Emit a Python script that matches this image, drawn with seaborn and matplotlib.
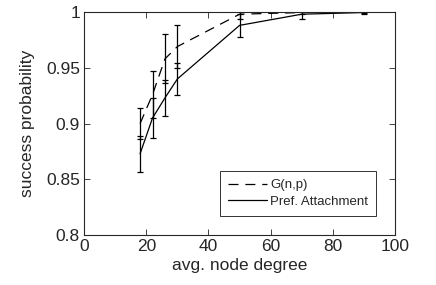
"""
Success probability vs. average node degree for two graph models
"""

import matplotlib
matplotlib.use('Agg')
import matplotlib.pyplot as plt
import seaborn as sns
import pandas as pd
import numpy as np


# Data
degree = [18, 22, 26, 30, 50, 70, 90]
gnp_mean = [0.900, 0.926, 0.958, 0.969, 0.998, 0.9995, 1.000]
gnp_err = [0.014, 0.021, 0.022, 0.019, 0.004, 0.001, 0.001]
pa_mean = [0.873, 0.905, 0.923, 0.940, 0.988, 0.998, 0.9995]
pa_err = [0.016, 0.018, 0.016, 0.0145, 0.010, 0.004, 0.001]
series_names = ['G(n,p)', 'Pref. Attachment']

xticks = [0, 20, 40, 60, 80, 100]
yticks = [0.8, 0.85, 0.9, 0.95, 1.0]
ytick_labels = ['0.8', '0.85', '0.9', '0.95', '1']


def main():
    sns.set_style('ticks')
    plt.rcParams['font.family'] = ['Liberation Sans', 'DejaVu Sans']
    plt.rcParams['xtick.direction'] = 'in'
    plt.rcParams['ytick.direction'] = 'in'

    df = pd.DataFrame({
        'degree': degree * 2,
        'prob': gnp_mean + pa_mean,
        'model': [series_names[0]] * len(degree) + [series_names[1]] * len(degree),
    })

    fig = plt.figure(figsize=(4.36, 2.85), dpi=100)
    ax = fig.add_axes([0.193, 0.175, 0.713, 0.783])

    # Mean curves
    sns.lineplot(data=df, x='degree', y='prob', hue='model', style='model',
                 palette=['black', 'black'],
                 dashes={series_names[0]: (8, 5.5), series_names[1]: ''},
                 linewidth=0.9, ax=ax)

    # Error bars
    for mean, err in [(gnp_mean, gnp_err), (pa_mean, pa_err)]:
        ax.errorbar(degree, mean, yerr=err, fmt='none', ecolor='black',
                    elinewidth=0.9, capsize=2.5, capthick=0.9)

    ax.set_xlim(0, 100)
    ax.set_ylim(0.8, 1.0)
    ax.set_xticks(xticks)
    ax.set_yticks(yticks)
    ax.set_yticklabels(ytick_labels)
    ax.tick_params(top=True, right=True, labelsize=12.5, length=4, width=0.6,
                   pad=3)
    for sp in ax.spines.values():
        sp.set_linewidth(0.8)
        sp.set_visible(True)

    ax.set_xlabel('avg. node degree', fontsize=12.5, labelpad=3)
    ax.set_ylabel('success probability', fontsize=12.5, labelpad=8)

    handles, labels = ax.get_legend_handles_labels()
    leg = ax.legend(handles, labels, loc='lower right', fontsize=9.5,
                    frameon=True, fancybox=False, edgecolor='black',
                    handlelength=3.0, borderaxespad=1.45, borderpad=0.6,
                    labelspacing=0.35, handletextpad=0.2)
    leg.get_frame().set_linewidth(0.7)

    fig.savefig('out.png', dpi=100)


if __name__ == '__main__':
    main()
